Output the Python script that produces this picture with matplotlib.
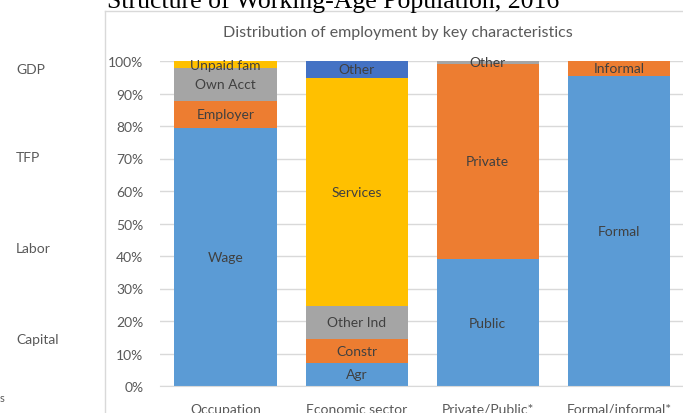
import numpy as np
import matplotlib
matplotlib.use('Agg')
import matplotlib.pyplot as plt
from matplotlib.lines import Line2D

plt.rcParams['font.family'] = ['Lato', 'DejaVu Sans']

categories = ['Occupation', 'Economic sector', 'Private/Public*', 'Formal/informal*']

# stacked segment shares (%) per series, bottom to top
series_vals = [
    [79.3, 7.1, 39.0, 95.5],
    [8.5, 7.4, 60.2, 4.5],
    [10.0, 10.2, 0.8, 0.0],
    [2.2, 70.1, 0.0, 0.0],
    [0.0, 5.2, 0.0, 0.0],
]
series_labels = [
    ['Wage', 'Agr', 'Public', 'Formal'],
    ['Employer', 'Constr', 'Private', 'Informal'],
    ['Own Acct', 'Other Ind', 'Other', ''],
    ['Unpaid fam', 'Services', '', ''],
    ['', 'Other', '', ''],
]
colors = ['#5B9BD5', '#ED7D31', '#A5A5A5', '#FFC000', '#4472C4']
side_labels = ['GDP', 'TFP', 'Labor', 'Capital']

W, H = 683, 414
fig = plt.figure(figsize=(W / 100, H / 100), dpi=100)
ax = fig.add_axes([160 / W, 1 - 387 / H, 524.5 / W, 325 / H])

txt = '#595959'
x = np.arange(len(categories))
bottom = np.zeros(len(categories))
for vals, labs, c in zip(series_vals, series_labels, colors):
    vals = np.array(vals)
    ax.bar(x, vals, 0.78, bottom=bottom, color=c, zorder=2)
    for i, (v, lab) in enumerate(zip(vals, labs)):
        if v > 0 and lab:
            ax.text(x[i], bottom[i] + v / 2, lab, ha='center', va='center',
                    fontsize=10, color='#404040', zorder=3)
    bottom += vals

ax.set_xlim(-0.5, 3.5)
ax.set_ylim(0, 100)
ax.set_yticks(np.arange(0, 101, 10))
ax.set_yticklabels([f'{v}%' for v in range(0, 101, 10)], fontsize=10, color=txt)
ax.set_xticks(x, categories, fontsize=10, color=txt)
ax.tick_params(axis='both', length=0)
ax.tick_params(axis='y', pad=12)
ax.tick_params(axis='x', pad=12)
ax.grid(axis='y', color='#D9D9D9', linewidth=1, zorder=0)
for s in ['top', 'right', 'left']:
    ax.spines[s].set_visible(False)
ax.spines['bottom'].set_color('#D9D9D9')

fig.text(398 / W, 1 - 33 / H, 'Distribution of employment by key characteristics',
         ha='center', va='center', fontsize=11.5, color=txt)

# cropped page title and neighbouring chart remnants
fig.text(333 / W, 1 - 8 / H, 'Structure of Working-Age Population, 2016',
         ha='center', va='baseline', fontsize=18.5, family='Liberation Serif', color='black')
for lab, yp in zip(side_labels, [70, 158, 249, 340]):
    fig.text(16 / W, 1 - yp / H, lab, ha='left', va='center', fontsize=10, color=txt)
fig.text(0, 1 - 399 / H, 's', ha='left', va='center', fontsize=8, color=txt)

fig.add_artist(Line2D([105 / W, 105 / W], [0, 1 - 12 / H], color='#D9D9D9', lw=1))
fig.add_artist(Line2D([105 / W, 1], [1 - 12 / H, 1 - 12 / H], color='#D9D9D9', lw=1))

fig.savefig('out.png', dpi=100)
